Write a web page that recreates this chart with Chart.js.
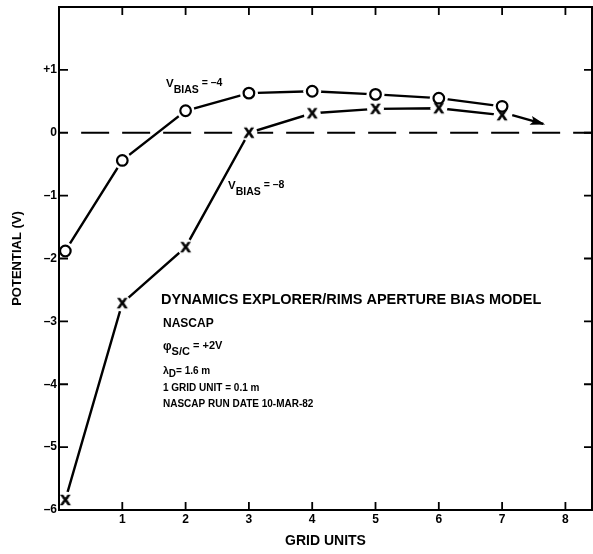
<!DOCTYPE html>
<html>
<head>
<meta charset="utf-8">
<script src="https://cdn.jsdelivr.net/npm/chart.js@4.4.0/dist/chart.umd.min.js"></script>
<style>
  html, body { margin: 0; padding: 0; background: #fff; }
  #wrap { width: 593px; height: 554px; }
</style>
</head>
<body>
<div id="wrap"><canvas id="chart"></canvas></div>
<script>
// values
const gridUnits = [0.1, 1, 2, 3, 4, 5, 6, 7];
const biasMinus4 = [-1.88, -0.44, 0.35, 0.63, 0.66, 0.61, 0.55, 0.42];
const biasMinus8 = [-5.84, -2.71, -1.82, 0.0, 0.31, 0.38, 0.39, 0.28];
const arrowX = [7.16, 7.65];
const arrowY = [0.28, 0.14];
const zeroX = [0.35, 8.42];
const xTicks = [1, 2, 3, 4, 5, 6, 7, 8];
const yTicks = [-6, -5, -4, -3, -2, -1, 0, 1];
const yTickLabels = ['–6', '–5', '–4', '–3', '–2', '–1', '0', '+1'];

const FONT = "'Liberation Sans', Arial, sans-serif";

function pts(xs, ys) {
  return xs.map((x, i) => ({ x: x, y: ys[i] }));
}

// letter X as a point style
function makeX() {
  const c = document.createElement('canvas');
  c.width = 20; c.height = 20;
  const g = c.getContext('2d');
  g.fillStyle = '#000';
  g.strokeStyle = '#000';
  g.lineWidth = 0.7;
  g.font = 'bold 15px ' + FONT;
  g.textAlign = 'center';
  g.textBaseline = 'middle';
  g.fillText('X', 10, 11);
  g.strokeText('X', 10, 11);
  return c;
}
const xMark = makeX();

const lineBase = { showLine: true, pointRadius: 0, borderColor: '#000', borderWidth: 2.4, clip: false };

const datasets = [
  // markers on top
  { label: 'm4', data: pts(gridUnits, biasMinus4), showLine: false, pointStyle: 'circle', pointRadius: 5.3,
    backgroundColor: '#fff', borderColor: '#000', borderWidth: 2.2, order: 0, clip: false },
  { label: 'm8', data: pts(gridUnits, biasMinus8), showLine: false, pointStyle: xMark,
    order: 0, clip: false },
  // white halos that open the gaps in the lines
  { label: 'h4', data: pts(gridUnits, biasMinus4), showLine: false, pointStyle: 'circle', pointRadius: 9,
    backgroundColor: '#fff', borderWidth: 0, order: 1, clip: false },
  { label: 'h8', data: pts(gridUnits, biasMinus8), showLine: false, pointStyle: 'circle', pointRadius: 8.5,
    backgroundColor: '#fff', borderWidth: 0, order: 1, clip: false },
  // lines
  Object.assign({ label: 'l4', data: pts(gridUnits, biasMinus4), order: 2 }, lineBase),
  Object.assign({ label: 'l8', data: pts(gridUnits, biasMinus8), order: 2 }, lineBase),
  Object.assign({ label: 'arrow', data: pts(arrowX, arrowY), order: 2 }, lineBase),
  { label: 'zero', data: pts(zeroX, [0, 0]), showLine: true, pointRadius: 0, borderColor: '#000',
    borderWidth: 2, borderDash: [28, 13], order: 3, clip: false }
];

const framePlugin = {
  id: 'frame',
  afterDatasetsDraw(chart) {
    const ctx = chart.ctx;
    const { left, right, top, bottom } = chart.chartArea;
    const xs = chart.scales.x, ys = chart.scales.y;
    ctx.save();
    ctx.strokeStyle = '#000';
    ctx.lineWidth = 2;
    ctx.strokeRect(left, top, right - left, bottom - top);
    ctx.lineWidth = 1.8;
    ctx.beginPath();
    xTicks.forEach(v => {
      const p = xs.getPixelForValue(v);
      ctx.moveTo(p, bottom); ctx.lineTo(p, bottom - 8);
      ctx.moveTo(p, top); ctx.lineTo(p, top + 8);
    });
    yTicks.forEach(v => {
      const p = ys.getPixelForValue(v);
      ctx.moveTo(left, p); ctx.lineTo(left + 9, p);
      ctx.moveTo(right, p); ctx.lineTo(right - 8, p);
    });
    ctx.stroke();

    // arrow head at the end of the arrow dataset
    const meta = chart.getDatasetMeta(datasets.findIndex(d => d.label === 'arrow'));
    const a = meta.data[0], b = meta.data[1];
    const ang = Math.atan2(b.y - a.y, b.x - a.x);
    ctx.translate(b.x, b.y);
    ctx.rotate(ang);
    ctx.fillStyle = '#000';
    ctx.beginPath();
    ctx.moveTo(2, 0);
    ctx.lineTo(-13, -4.5);
    ctx.lineTo(-10, 0);
    ctx.lineTo(-13, 4.5);
    ctx.closePath();
    ctx.fill();
    ctx.restore();
  }
};

function subText(ctx, x, y, parts) {
  // parts: [text, size, dy]
  let cx = x;
  parts.forEach(p => {
    ctx.font = 'bold ' + p[1] + 'px ' + FONT;
    ctx.fillText(p[0], cx, y + p[2]);
    cx += ctx.measureText(p[0]).width;
  });
}

const textPlugin = {
  id: 'notes',
  afterDraw(chart) {
    const ctx = chart.ctx;
    ctx.save();
    ctx.fillStyle = '#000';
    ctx.textBaseline = 'alphabetic';
    ctx.textAlign = 'left';
    subText(ctx, 166, 87, [['V', 11.5, 0], ['BIAS', 10.5, 6], [' = –4', 10.5, -1]]);
    subText(ctx, 228, 189, [['V', 11.5, 0], ['BIAS', 10.5, 6], [' = –8', 10.5, -1]]);

    ctx.font = 'bold 14.5px ' + FONT;
    ctx.fillText('DYNAMICS EXPLORER/RIMS APERTURE BIAS MODEL', 161, 304);
    ctx.font = 'bold 12px ' + FONT;
    ctx.fillText('NASCAP', 163, 327);
    subText(ctx, 163, 350, [['φ', 12, 0], ['S/C', 11, 5], [' = +2V', 11, -1]]);
    subText(ctx, 163, 374, [['λ', 10.5, 0], ['D', 10, 3], ['= 1.6 m', 10, 0]]);
    ctx.font = 'bold 10px ' + FONT;
    ctx.fillText('1 GRID UNIT = 0.1 m', 163, 391);
    ctx.fillText('NASCAP RUN DATE 10-MAR-82', 163, 407);
    ctx.restore();
  }
};

new Chart(document.getElementById('chart'), {
  type: 'scatter',
  data: { datasets: datasets },
  options: {
    responsive: true,
    maintainAspectRatio: false,
    animation: false,
    layout: { autoPadding: false, padding: { top: 7, right: 1, left: 0, bottom: 0 } },
    plugins: {
      legend: { display: false },
      tooltip: { enabled: false }
    },
    events: [],
    scales: {
      x: {
        type: 'linear',
        min: 0,
        max: 8.42,
        afterBuildTicks: s => { s.ticks = xTicks.map(v => ({ value: v })); },
        afterFit: s => { s.height = 44; s.paddingLeft = 0; s.paddingRight = 0; },
        grid: { display: false, drawTicks: false },
        border: { display: false },
        ticks: { color: '#000', font: { family: FONT, weight: 'bold', size: 12 }, padding: 2, maxRotation: 0 },
        title: { display: true, text: 'GRID UNITS', color: '#000',
                 font: { family: FONT, weight: 'bold', size: 14 }, padding: { top: 0, bottom: 4 } }
      },
      y: {
        min: -6,
        max: 2,
        afterBuildTicks: s => { s.ticks = yTicks.map(v => ({ value: v })); },
        afterFit: s => { s.width = 59; s.paddingTop = 0; s.paddingBottom = 0; },
        grid: { display: false, drawTicks: false },
        border: { display: false },
        ticks: {
          color: '#000', font: { family: FONT, weight: 'bold', size: 12 }, padding: 2,
          callback: v => yTickLabels[yTicks.indexOf(v)]
        },
        title: { display: true, text: 'POTENTIAL (V)', color: '#000',
                 font: { family: FONT, weight: 'bold', size: 13 }, padding: { top: 10, bottom: 0 } }
      }
    }
  },
  plugins: [framePlugin, textPlugin]
});
</script>
</body>
</html>
